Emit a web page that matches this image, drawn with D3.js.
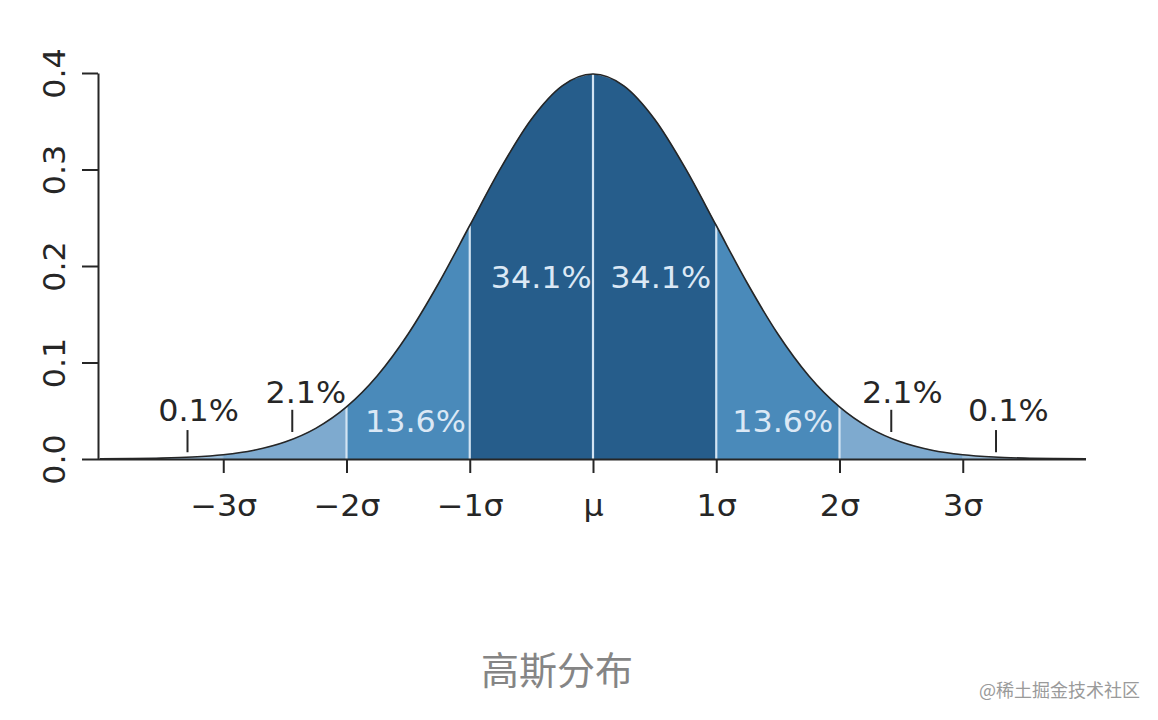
<!DOCTYPE html>
<html>
<head>
<meta charset="utf-8">
<script src="https://cdn.jsdelivr.net/npm/d3@7"></script>
<style>
  html, body { margin: 0; padding: 0; background: #fff; }
  svg { display: block; }
</style>
</head>
<body>
<svg id="chart" width="1158" height="720"></svg>
<script>
// ---- data ----
// standard normal density sampled every 0.25 sigma, x from -4 to 4
const xSamples = [-4,-3.75,-3.5,-3.25,-3,-2.75,-2.5,-2.25,-2,-1.75,-1.5,-1.25,-1,-0.75,-0.5,-0.25,0,
                  0.25,0.5,0.75,1,1.25,1.5,1.75,2,2.25,2.5,2.75,3,3.25,3.5,3.75,4];
const densityValues = [0.00013,0.00035,0.00087,0.00203,0.00443,0.00909,0.01753,0.03174,0.05399,0.08628,0.12952,0.18265,0.24197,0.30114,0.35207,0.38667,0.39894,
                       0.38667,0.35207,0.30114,0.24197,0.18265,0.12952,0.08628,0.05399,0.03174,0.01753,0.00909,0.00443,0.00203,0.00087,0.00035,0.00013];
const bandStarts = [-4,-3,-2,-1,0,1,2,3];
const bandEnds   = [-3,-2,-1,0,1,2,3,4];
const bandLevel  = [0,1,2,3,3,2,1,0];   // shade index
const dividers = [-2,-1,0,1,2];
const xTickValues = [-3,-2,-1,0,1,2,3];
const xTickLabels = ["\u22123\u03c3","\u22122\u03c3","\u22121\u03c3","\u03bc","1\u03c3","2\u03c3","3\u03c3"];
const yTickValues = [0,0.1,0.2,0.3,0.4];
const yTickLabels = ["0.0","0.1","0.2","0.3","0.4"];
const pctLabels = ["0.1%","2.1%","13.6%","34.1%","34.1%","13.6%","2.1%","0.1%"];
const pctX      = [-3.2,-2.33,-1.44,-0.42,0.55,1.54,2.51,3.37];
const pctY      = [0.039,0.058,0.028,0.177,0.177,0.028,0.058,0.039];
const pctInside = [false,false,true,true,true,true,false,false];
const markerX   = [-3.29,-2.44,2.42,3.27];
const markerY0  = [0.007,0.028,0.028,0.007];
const markerY1  = [0.030,0.051,0.051,0.030];
const title = "高斯分布";
const watermark = "@稀土掘金技术社区";

// ---- styles ----
const shades = ["#9cbfdc", "#7eaacf", "#4a8aba", "#265d8b"];
const ink = "#262626";
const font = "'DejaVu Sans', sans-serif";
const fs = 30, stretch = 1.06;

const svg = d3.select("#chart");
const x = d3.scaleLinear().domain([-4, 4]).range([100, 1086]);
const y = d3.scaleLinear().domain([0, 0.4]).range([459, 73]);

const pts = xSamples.map((v, i) => ({x: v, y: densityValues[i]}));

// bands
const area = d3.area().x(d => x(d.x)).y0(y(0)).y1(d => y(d.y)).curve(d3.curveMonotoneX);
bandStarts.forEach((a, i) => {
  const b = bandEnds[i];
  const seg = pts.filter(p => p.x >= a - 1e-9 && p.x <= b + 1e-9);
  svg.append("path").datum(seg).attr("d", area)
    .attr("fill", shades[bandLevel[i]]).attr("stroke", shades[bandLevel[i]]).attr("stroke-width", 0.5);
});

// divider lines
const densityAt = v => densityValues[xSamples.indexOf(v)];
svg.append("g").selectAll("line").data(dividers).join("line")
  .attr("x1", d => x(d)).attr("x2", d => x(d))
  .attr("y1", y(0)).attr("y2", d => y(densityAt(d)))
  .attr("stroke", "#d3e4f3").attr("stroke-width", 2.2);

// curve
const line = d3.line().x(d => x(d.x)).y(d => y(d.y)).curve(d3.curveMonotoneX);
svg.append("path").datum(pts).attr("d", line)
  .attr("fill", "none").attr("stroke", ink).attr("stroke-width", 1.6);

// y axis
const yAxis = d3.axisLeft(y).tickValues(yTickValues).tickSize(16).tickSizeOuter(0)
  .tickFormat((d, i) => yTickLabels[i]);
const gy = svg.append("g").attr("transform", "translate(98,0)").call(yAxis);
gy.select(".domain").attr("stroke", ink).attr("stroke-width", 2);
gy.selectAll(".tick line").attr("stroke", ink).attr("stroke-width", 2);
gy.selectAll(".tick text")
  .attr("x", null).attr("dy", null)
  .attr("transform", `translate(-33,0) rotate(-90) scale(${stretch},1)`)
  .attr("text-anchor", "middle")
  .attr("font-family", font).attr("font-size", fs).attr("fill", ink);

// x axis
const xAxis = d3.axisBottom(x).tickValues(xTickValues).tickSize(14).tickSizeOuter(0)
  .tickFormat((d, i) => xTickLabels[i]);
const gx = svg.append("g").attr("transform", "translate(0,459)").call(xAxis);
gx.select(".domain").attr("d", `M${98},0.5H${1086}`).attr("stroke", ink).attr("stroke-width", 2);
gx.selectAll(".tick line").attr("stroke", ink).attr("stroke-width", 2);
gx.selectAll(".tick text")
  .attr("y", null).attr("dy", null)
  .attr("transform", `translate(0,57) scale(${stretch},1)`)
  .attr("font-family", font).attr("font-size", fs).attr("fill", ink);

// percentage markers
svg.append("g").selectAll("line").data(markerX).join("line")
  .attr("x1", d => x(d)).attr("x2", d => x(d))
  .attr("y1", (d, i) => y(markerY0[i])).attr("y2", (d, i) => y(markerY1[i]))
  .attr("stroke", ink).attr("stroke-width", 2);

// percentage labels
svg.append("g").selectAll("text").data(pctLabels).join("text")
  .attr("transform", (d, i) => `translate(${x(pctX[i])},${y(pctY[i])}) scale(${stretch},1)`)
  .attr("text-anchor", "middle")
  .attr("font-family", font).attr("font-size", fs)
  .attr("fill", (d, i) => pctInside[i] ? "#dbe8f5" : ink)
  .text(d => d);

// title & watermark
svg.append("text").attr("x", 557).attr("y", 684).attr("text-anchor", "middle")
  .attr("font-family", "'Noto Sans CJK SC', sans-serif").attr("font-size", 38)
  .attr("fill", "#858585").text(title);
svg.append("text").attr("x", 1140).attr("y", 697).attr("text-anchor", "end")
  .attr("font-family", "'Noto Sans CJK SC', sans-serif").attr("font-size", 18)
  .attr("fill", "#9a9a9a").text(watermark);
</script>
</body>
</html>
